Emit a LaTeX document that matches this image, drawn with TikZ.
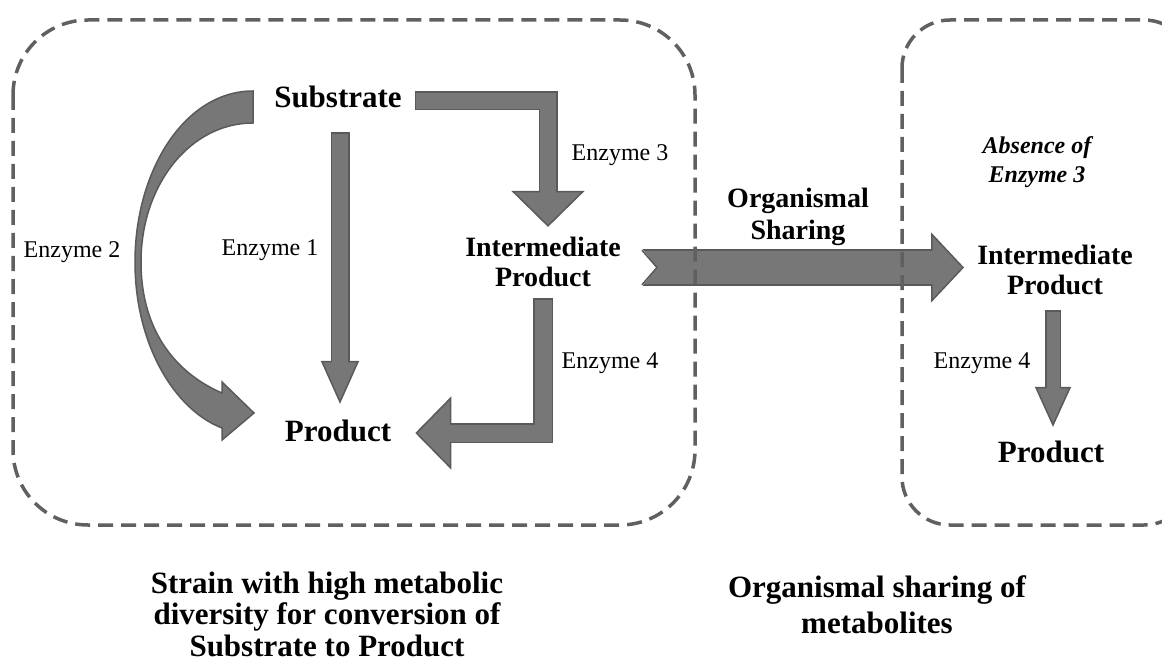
\documentclass[tikz,border=0pt]{standalone}
\usepackage{fontspec}
\setmainfont{Liberation Serif}
\usetikzlibrary{arrows.meta}
\definecolor{arrowfill}{HTML}{777777}
\definecolor{arrowedge}{HTML}{5A5A5A}
\definecolor{boxline}{HTML}{606060}
\tikzset{blockarrow/.style n args={5}{
        draw=arrowedge, line width=#1, line join=miter,
        -{Triangle[length=#3, width=#4, line width=1.5pt, color=arrowedge, fill=arrowfill]},
        postaction={draw=arrowfill, line width=#2, -, shorten <=1.5pt, shorten >=#5}
    },
    groupbox/.style={draw=boxline, line width=3.5pt, dash pattern=on 15pt off 8pt},
    species/.style={font=\fontsize{31}{30}\selectfont\bfseries, align=center, inner sep=0pt},
    midspecies/.style={font=\fontsize{28}{30}\selectfont\bfseries, align=center, inner sep=0pt},
    enzyme/.style={font=\fontsize{24}{29}\selectfont, align=center, inner sep=0pt},
    caption/.style={font=\fontsize{31}{31.5}\selectfont\bfseries, align=center, inner sep=0pt}
}

\begin{document}
\begin{tikzpicture}[x=1pt, y=-1pt]
      \useasboundingbox (0,0) rectangle (1162,671);

      \node[species] (sub) at (338,97) {Substrate};
      \node[species] (prodA) at (338,431) {Product};
      \node[midspecies] (midA) at (543,262) {Intermediate\\Product};
      \node[midspecies] (midB) at (1055,270) {Intermediate\\Product};
      \node[species] (prodB) at (1051,452) {Product};

      \node[enzyme] (e1) at (270,250) {Enzyme 1};
      \node[enzyme] (e2) at (72,252) {Enzyme 2};
      \node[enzyme] (e3) at (620,155) {Enzyme 3};
      \node[enzyme] (e4a) at (610,363) {Enzyme 4};
      \node[enzyme] (e4b) at (982,363) {Enzyme 4};
      \node[enzyme, font=\fontsize{24}{29}\selectfont\bfseries\itshape] (absent) at (1037,162) {Absence of\\Enzyme 3};
      \node[midspecies, font=\fontsize{28}{32}\selectfont\bfseries] (share) at (798,217) {Organismal\\Sharing};

      \node[caption] (capA) at (327,614) {Strain with high metabolic\\diversity for conversion of\\Substrate to Product};
      \node[caption, font=\fontsize{31}{36}\selectfont\bfseries] (capB) at (877,605) {Organismal sharing of\\metabolites};

      \coordinate (shareStart) at ([xshift=21pt,yshift=-5.5pt]midA.east);
      \coordinate (shareEnd) at (shareStart -| midB.west);
      \coordinate (e4End) at (midB.south |- prodB.north);

      \draw[blockarrow={19pt}{16pt}{43pt}{38pt}{28pt}] ([xshift=2pt,yshift=-24pt]sub.south) -- ([xshift=2pt,yshift=16pt]prodA.north);
      \draw[blockarrow={19pt}{16pt}{36pt}{73pt}{24pt}] ([xshift=13pt,yshift=-4pt]sub.east) -| ([xshift=5pt,yshift=10pt]midA.north);
      \draw[blockarrow={20pt}{17pt}{36pt}{73pt}{24pt}] ([yshift=-11pt]midA.south) |- ([xshift=24pt,yshift=-2pt]prodA.east);
      \draw[blockarrow={16pt}{13pt}{40pt}{36pt}{28pt}] ([xshift=-2pt,yshift=-15pt]midB.south) -- ([xshift=-2pt,yshift=14pt]e4End);

      \draw[blockarrow={36pt}{33pt}{33pt}{70pt}{22pt}] (shareStart) -- ([xshift=-13pt]shareEnd);
      \fill[white] ([xshift=-1pt,yshift=20pt]shareStart) -- ([xshift=15pt]shareStart) -- ([xshift=-1pt,yshift=-20pt]shareStart) -- cycle;
      \draw[arrowedge, line width=1.5pt] ([yshift=17.25pt]shareStart) -- ([xshift=15pt]shareStart) -- ([yshift=-17.25pt]shareStart);

      \filldraw[fill=arrowfill, draw=arrowedge, line width=1.5pt, line join=miter]
        (253,91) .. controls (185,91) and (135,170) .. (135,262)
        .. controls (135,345) and (175,410) .. (222,428)
        -- (222,440) -- (254,413) -- (222,382) -- (222,393)
        .. controls (180,375) and (141,335) .. (141,262)
        .. controls (141,185) and (190,123) .. (253,123) -- cycle;

      \draw[groupbox, rounded corners=75pt] (13,20) rectangle (695,525);
      \draw[groupbox, rounded corners=48pt] (902,20) rectangle (1192,525);
\end{tikzpicture}
\end{document}
